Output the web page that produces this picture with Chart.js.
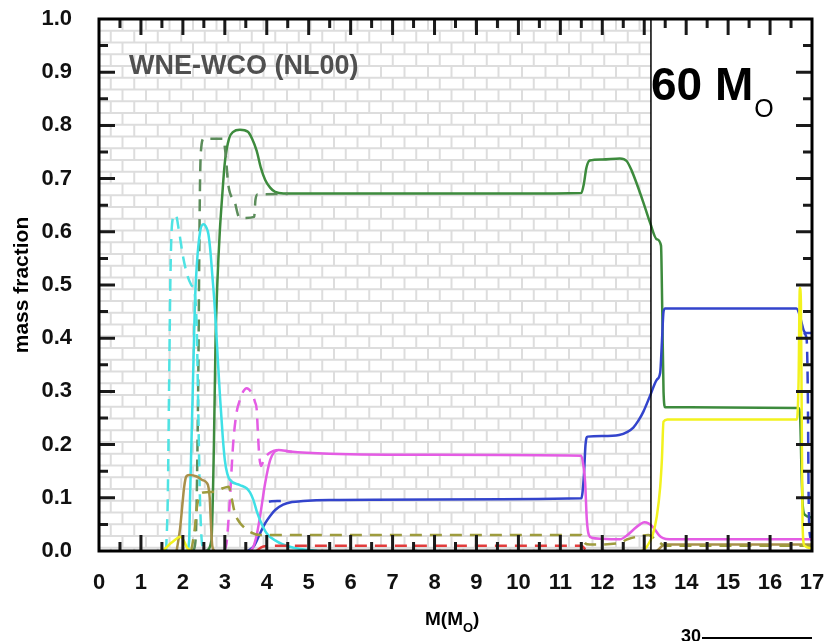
<!DOCTYPE html>
<html>
<head>
<meta charset="utf-8">
<script src="https://cdn.jsdelivr.net/npm/chart.js@4.4.1/dist/chart.umd.min.js"></script>
<style>
  html, body { margin: 0; padding: 0; background: #ffffff; }
  canvas { display: block; }
</style>
</head>
<body>
<canvas id="profile" width="825" height="641"></canvas>
<script>
// Chemical profile of the 60 Msun model at the WNE-WCO transition (NL00 mass loss).
// Each series is a list of [M (Msun), mass fraction] points; null breaks the line.

const xRange = [0, 17];
const yRange = [0, 1];
const xTickStep = 1;
const yTickStep = 0.1;
const coreBoundary = 13.16;   // mass coordinate of the vertical divider

const greenSolid = [[2.55,0],[2.68,0.02],[2.74,0.2],[2.78,0.4],[2.82,0.5],[2.88,0.6],[2.94,0.67],[3.0,0.73],[3.1,0.775],[3.2,0.788],[3.36,0.792],[3.55,0.788],[3.65,0.775],[3.76,0.752],[3.86,0.72],[3.96,0.698],[4.08,0.683],[4.2,0.675],[4.4,0.672],[6,0.672],[8,0.672],[10,0.672],[11.5,0.673],[11.56,0.69],[11.62,0.72],[11.7,0.734],[12.0,0.736],[12.42,0.738],[12.58,0.733],[12.7,0.715],[12.8,0.695],[12.98,0.655],[13.14,0.617],[13.3,0.586],[13.4,0.574],[13.43,0.45],[13.46,0.3],[13.5,0.27],[14,0.27],[16.68,0.269],[16.72,0.245],[16.75,0.15],[16.78,0.085],[16.83,0.068],[17,0.063]];

const greenDashed = [[2.25,0],[2.31,0.03],[2.34,0.15],[2.37,0.35],[2.39,0.55],[2.41,0.7],[2.44,0.76],[2.5,0.775],[2.96,0.775],[3.02,0.745],[3.08,0.69],[3.24,0.655],[3.34,0.628],[3.5,0.626],[3.7,0.628],[3.73,0.66],[3.78,0.67],[4.5,0.671]];

const blueSolid = [[3.55,0],[3.7,0.01],[3.84,0.033],[3.96,0.052],[4.08,0.066],[4.2,0.077],[4.39,0.087],[4.6,0.092],[4.87,0.094],[5.5,0.096],[8,0.097],[11.5,0.099],[11.56,0.14],[11.6,0.2],[11.65,0.215],[12.0,0.216],[12.4,0.218],[12.6,0.224],[12.74,0.232],[12.86,0.245],[12.98,0.262],[13.14,0.292],[13.3,0.322],[13.38,0.335],[13.42,0.39],[13.46,0.45],[13.5,0.456],[14,0.456],[16.63,0.456],[16.7,0.445],[16.75,0.43],[16.8,0.415],[16.86,0.41],[17,0.41]];

const blueDashed = [[4.05,0.093],[4.25,0.094],[4.45,0.094],[4.5,null],[16.8,0.41],[16.87,0.4],[16.9,0.3],[16.92,0.1],[16.95,0.03],[17,0.02]];

const magentaSolid = [[3.6,0],[3.68,0.008],[3.76,0.03],[3.84,0.065],[3.96,0.127],[4.08,0.171],[4.18,0.186],[4.28,0.19],[4.55,0.187],[5.5,0.183],[8,0.181],[11.5,0.179],[11.55,0.16],[11.59,0.13],[11.63,0.06],[11.68,0.03],[11.75,0.025],[12.0,0.023],[12.42,0.022],[12.6,0.03],[12.74,0.04],[12.9,0.05],[13.0,0.054],[13.1,0.052],[13.22,0.044],[13.35,0.03],[13.45,0.024],[13.6,0.022],[17,0.022]];

const magentaDashed = [[2.98,0],[3.04,0.014],[3.08,0.05],[3.12,0.096],[3.2,0.203],[3.28,0.26],[3.36,0.284],[3.44,0.3],[3.52,0.306],[3.64,0.297],[3.72,0.28],[3.76,0.266],[3.79,0.22],[3.82,0.18],[3.86,0.16],[3.95,0.175],[4.1,0.186],[4.3,0.19],[4.6,0.186]];

const cyanSolid = [[2.1,0],[2.15,0.02],[2.17,0.096],[2.21,0.222],[2.26,0.38],[2.29,0.473],[2.33,0.535],[2.41,0.6],[2.49,0.614],[2.56,0.608],[2.61,0.595],[2.66,0.56],[2.7,0.52],[2.75,0.47],[2.79,0.42],[2.84,0.35],[2.89,0.284],[2.95,0.215],[3.0,0.171],[3.06,0.145],[3.12,0.134],[3.36,0.124],[3.52,0.118],[3.6,0.11],[3.68,0.096],[3.76,0.075],[3.84,0.058],[4.0,0.033],[4.24,0.018],[4.55,0.008],[4.8,0.004],[5.2,0]];

const cyanDashed = [[1.6,0],[1.64,0.1],[1.67,0.3],[1.7,0.5],[1.73,0.6],[1.78,0.628],[1.83,0.632],[1.9,0.605],[2.0,0.555],[2.1,0.52],[2.2,0.5],[2.28,0.485],[2.33,0.42],[2.37,0.25],[2.4,0.12],[2.44,0.03],[2.5,0]];

const oliveSolid = [[1.85,0],[1.93,0.04],[1.98,0.08],[2.03,0.12],[2.08,0.14],[2.15,0.143],[2.33,0.14],[2.45,0.134],[2.57,0.128],[2.61,0.12],[2.64,0.1],[2.67,0.05],[2.7,0.01],[2.75,0],[2.8,null],[13.3,0],[13.5,0.012],[17,0.012]];

const oliveDashed = [[2.2,0],[2.28,0.04],[2.33,0.08],[2.4,0.105],[2.5,0.11],[2.8,0.112],[2.95,0.118],[3.09,0.121],[3.16,0.1],[3.24,0.071],[3.34,0.055],[3.44,0.046],[3.6,0.036],[3.84,0.03],[6,0.03],[9,0.03],[11.5,0.03],[11.58,0.015],[11.7,0.012],[12.4,0.015],[12.6,0.022],[12.9,0.028],[13.1,0.03],[13.3,0.02],[13.5,0.01],[17,0.01]];

const yellowSolid = [[1.5,0],[1.6,0.006],[1.7,0.014],[1.8,0.02],[1.93,0.027],[2.02,0.02],[2.1,0.006],[2.2,0],[2.3,null],[12.95,0],[13.06,0.008],[13.2,0.03],[13.3,0.065],[13.38,0.12],[13.42,0.17],[13.46,0.243],[13.55,0.247],[16.64,0.247],[16.68,0.32],[16.71,0.495],[16.735,0.47],[16.755,0.25],[16.775,0.05],[16.82,0.01],[17,0.005]];

const redDashed = [[3.75,0],[3.9,0.008],[4.2,0.01],[11.5,0.01],[11.6,0.003],[11.8,0]];

const FONT = '"Liberation Sans", Arial, sans-serif';

function toPoints(list) {
  return list.map(p => ({ x: p[0], y: p[1] }));
}

function series(list, color, dashed) {
  return {
    data: toPoints(list),
    borderColor: color,
    borderWidth: 2.5,
    borderDash: dashed ? [12, 8] : [],
    pointRadius: 0,
    fill: false,
    spanGaps: false,
    cubicInterpolationMode: 'monotone'
  };
}

// Brick wall behind the core region, left of the divider
const brickWall = {
  id: 'brickWall',
  beforeDatasetsDraw(chart) {
    const { ctx, chartArea: a, scales: { x } } = chart;
    const xDiv = x.getPixelForValue(coreBoundary);
    const bw = 23.5, bh = 11.75;
    ctx.save();
    ctx.beginPath();
    ctx.rect(a.left, a.top, xDiv - a.left, a.bottom - a.top);
    ctx.clip();
    ctx.beginPath();
    ctx.strokeStyle = '#dddddd';
    ctx.lineWidth = 2;
    for (let r = 0; a.top + r * bh < a.bottom + bh; r++) {
      const y = a.top + r * bh;
      ctx.moveTo(a.left, y);
      ctx.lineTo(xDiv, y);
      const off = (r % 2) ? bw / 2 : 0;
      for (let xx = a.left + off; xx < xDiv; xx += bw) {
        ctx.moveTo(xx, y);
        ctx.lineTo(xx, y + bh);
      }
    }
    ctx.stroke();
    ctx.restore();
  }
};

// Frame, inward tick marks, divider and annotations
const frameAndText = {
  id: 'frameAndText',
  afterDraw(chart) {
    const { ctx, chartArea: a, scales: { x, y } } = chart;
    ctx.save();

    // divider between core and envelope
    const xDiv = x.getPixelForValue(coreBoundary);
    ctx.strokeStyle = '#000';
    ctx.lineWidth = 1.5;
    ctx.beginPath();
    ctx.moveTo(xDiv, a.top);
    ctx.lineTo(xDiv, a.bottom);
    ctx.stroke();

    // inward ticks
    ctx.strokeStyle = '#1a1a1a';
    ctx.lineWidth = 3;
    ctx.beginPath();
    for (let k = 1; k < (xRange[1] - xRange[0]) * 2; k++) {
      const v = xRange[0] + k * xTickStep / 2;
      const px = x.getPixelForValue(v);
      const major = k % 2 === 0;
      const len = major ? 16 : 9;
      ctx.moveTo(px, a.bottom);
      ctx.lineTo(px, a.bottom - len);
      ctx.moveTo(px, a.top);
      ctx.lineTo(px, a.top + len);
    }
    for (let k = 1; k < Math.round((yRange[1] - yRange[0]) / yTickStep) * 2; k++) {
      const v = yRange[0] + k * yTickStep / 2;
      const py = y.getPixelForValue(v);
      const major = k % 2 === 0;
      const len = major ? 16 : 9;
      ctx.moveTo(a.left, py);
      ctx.lineTo(a.left + len, py);
      ctx.moveTo(a.right, py);
      ctx.lineTo(a.right - len, py);
    }
    ctx.stroke();

    // frame
    ctx.strokeStyle = '#000';
    ctx.lineWidth = 3;
    ctx.strokeRect(a.left, a.top, a.right - a.left, a.bottom - a.top);

    // model label
    ctx.fillStyle = '#505050';
    ctx.font = 'bold 27px ' + FONT;
    ctx.textAlign = 'left';
    ctx.textBaseline = 'alphabetic';
    ctx.fillText('WNE-WCO (NL00)', 129, 74);

    // initial mass
    ctx.fillStyle = '#000';
    ctx.font = 'bold 46px ' + FONT;
    ctx.fillText('60 M', 651, 100);
    const w60 = ctx.measureText('60 M').width;
    ctx.font = '25px ' + FONT;
    ctx.fillText('O', 651 + w60 + 1, 117);

    // axis titles
    ctx.font = 'bold 21px ' + FONT;
    ctx.save();
    ctx.translate(22, 285);
    ctx.rotate(-Math.PI / 2);
    ctx.textAlign = 'center';
    ctx.textBaseline = 'middle';
    ctx.fillText('mass fraction', 0, 0);
    ctx.restore();

    ctx.textAlign = 'left';
    ctx.textBaseline = 'alphabetic';
    ctx.font = 'bold 19px ' + FONT;
    const t1 = 'M(M';
    ctx.fillText(t1, 425, 625);
    let cx = 425 + ctx.measureText(t1).width;
    ctx.font = 'bold 13px ' + FONT;
    ctx.fillText('O', cx, 632);
    cx += ctx.measureText('O').width;
    ctx.font = 'bold 19px ' + FONT;
    ctx.fillText(')', cx, 625);

    // top of the next panel below
    ctx.font = 'bold 18px ' + FONT;
    ctx.fillText('30', 681, 642);
    ctx.lineWidth = 2;
    ctx.beginPath();
    ctx.moveTo(702, 638);
    ctx.lineTo(812, 638);
    ctx.stroke();

    ctx.restore();
  }
};

const tickFont = { family: FONT, size: 22, weight: 'bold' };

new Chart(document.getElementById('profile'), {
  type: 'line',
  data: {
    datasets: [
      series(yellowSolid, '#f2f21e', false),
      series(redDashed, '#e23c3c', true),
      series(oliveDashed, '#9e9c3e', true),
      series(oliveSolid, '#a8904a', false),
      series(cyanDashed, '#4fe3e3', true),
      series(cyanSolid, '#3fe0e6', false),
      series(magentaDashed, '#e45ce4', true),
      series(magentaSolid, '#e45ce4', false),
      series(blueDashed, '#3344cc', true),
      series(blueSolid, '#3344cc', false),
      series(greenDashed, '#5b8c5a', true),
      series(greenSolid, '#3d8b3d', false)
    ]
  },
  options: {
    responsive: false,
    animation: false,
    devicePixelRatio: 1,
    layout: { padding: { left: 0, right: 13, top: 19, bottom: 0 } },
    plugins: { legend: { display: false }, tooltip: { enabled: false } },
    scales: {
      x: {
        type: 'linear',
        min: xRange[0],
        max: xRange[1],
        grid: { display: false },
        border: { display: false },
        ticks: { stepSize: xTickStep, padding: 11, color: '#111', font: tickFont, maxRotation: 0, autoSkip: false },
        afterFit(s) { s.height = 90; s.paddingLeft = 0; s.paddingRight = 0; }
      },
      y: {
        type: 'linear',
        min: yRange[0],
        max: yRange[1],
        grid: { display: false },
        border: { display: false },
        ticks: { stepSize: yTickStep, padding: 19, color: '#111', font: tickFont, callback: v => v.toFixed(1) },
        afterFit(s) { s.width = 99; s.paddingTop = 0; s.paddingBottom = 0; }
      }
    }
  },
  plugins: [brickWall, frameAndText]
});
</script>
</body>
</html>
